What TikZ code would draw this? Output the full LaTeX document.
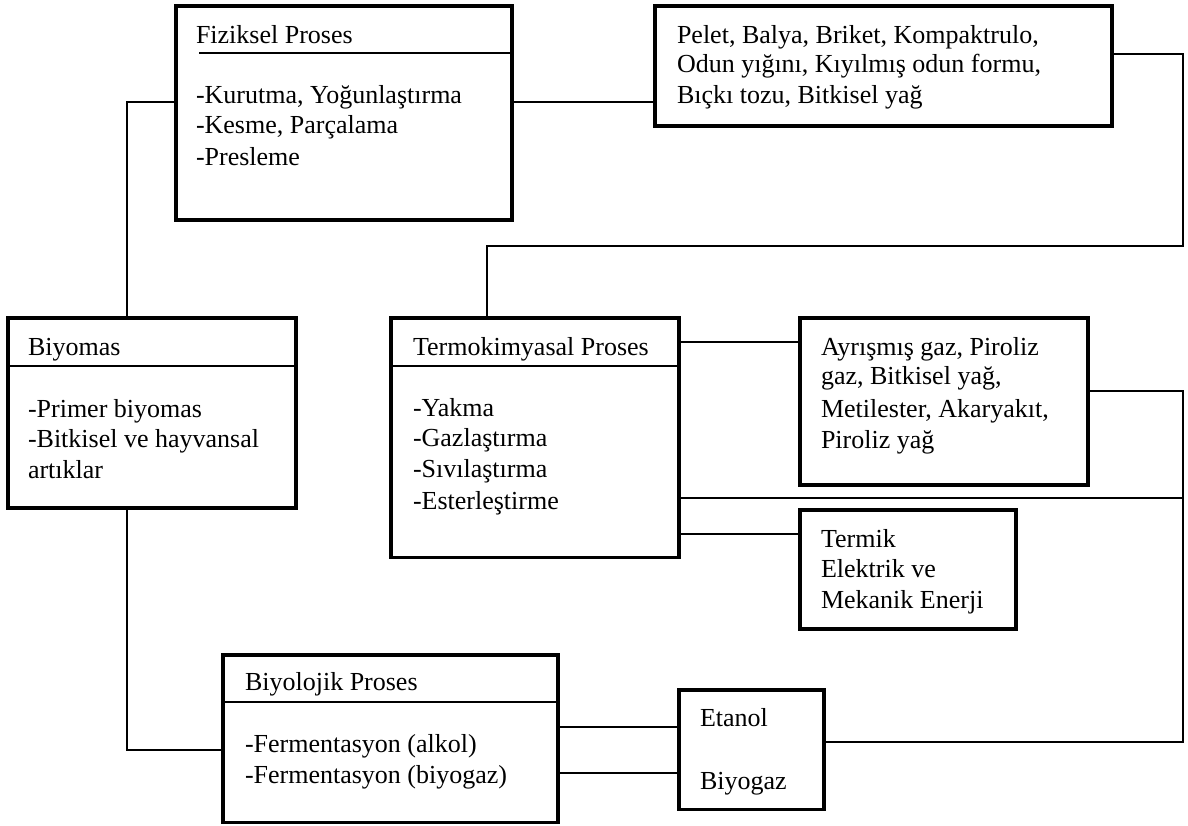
\documentclass[tikz,border=0pt]{standalone}
\usepackage{fontspec}
\setmainfont{Liberation Serif}
\begin{document}
\begin{tikzpicture}[x=0.5pt,y=-0.5pt,
  box/.style={draw,line width=1.65pt,rectangle,inner sep=0,outer sep=0,anchor=north west},
  conn/.style={line width=0.9pt},
  hdr/.style={line width=0.9pt},
  txt/.style={inner sep=0,outer sep=0,anchor=base west,font=\fontsize{13pt}{15pt}\selectfont}]
\useasboundingbox (0,0) rectangle (1188,825);

% boxes
\node[box,minimum width=168pt,minimum height=107pt] (fiz) at (176,6) {};
\node[box,minimum width=228.5pt,minimum height=60pt] (pel) at (655,6) {};
\node[box,minimum width=144pt,minimum height=95pt] (bio) at (8,318) {};
\node[box,minimum width=144pt,minimum height=119.75pt] (ter) at (391,318) {};
\node[box,minimum width=144pt,minimum height=83.5pt] (ayr) at (800,318) {};
\node[box,minimum width=108pt,minimum height=59.5pt] (tmk) at (800,510) {};
\node[box,minimum width=72.5pt,minimum height=59.75pt] (eta) at (679,690) {};
\node[box,minimum width=167.5pt,minimum height=83.75pt] (byl) at (223,655) {};

% header rules
\draw[hdr] (199,53) -- (fiz.east |- 0,53);
\draw[hdr] (bio.west |- 0,366) -- (bio.east |- 0,366);
\draw[hdr] (ter.west |- 0,366) -- (ter.east |- 0,366);
\draw[hdr] (byl.west |- 0,702) -- (byl.east |- 0,702);

% texts
\node[txt] (t1) at (196,43) {Fiziksel Proses};
\node[txt] (t2) at (196,103) {-Kurutma, Yoğunlaştırma};
\node[txt] (t3) at (196,133) {-Kesme, Parçalama};
\node[txt] (t4) at (196,165) {-Presleme};

\node[txt] (p1) at (677,43) {Pelet, Balya, Briket, Kompaktrulo,};
\node[txt] (p2) at (677,72) {Odun yığını, Kıyılmış odun formu,};
\node[txt] (p3) at (677,103) {Bıçkı tozu, Bitkisel yağ};

\node[txt] (b1) at (28,355) {Biyomas};
\node[txt] (b2) at (28,417) {-Primer biyomas};
\node[txt] (b3) at (28,447) {-Bitkisel ve hayvansal};
\node[txt] (b4) at (28,478) {artıklar};

\node[txt] (k1) at (413,355) {Termokimyasal Proses};
\node[txt] (k2) at (413,416) {-Yakma};
\node[txt] (k3) at (413,446) {-Gazlaştırma};
\node[txt] (k4) at (413,477) {-Sıvılaştırma};
\node[txt] (k5) at (413,509) {-Esterleştirme};

\node[txt] (a1) at (821,355) {Ayrışmış gaz, Piroliz};
\node[txt] (a2) at (821,384) {gaz, Bitkisel yağ,};
\node[txt] (a3) at (821,417) {Metilester, Akaryakıt,};
\node[txt] (a4) at (821,448) {Piroliz yağ};

\node[txt] (m1) at (821,547) {Termik};
\node[txt] (m2) at (821,577) {Elektrik ve};
\node[txt] (m3) at (821,608) {Mekanik Enerji};

\node[txt] (e1) at (700,726) {Etanol};
\node[txt] (e2) at (700,789) {Biyogaz};

\node[txt] (y1) at (245,690) {Biyolojik Proses};
\node[txt] (y2) at (245,752) {-Fermentasyon (alkol)};
\node[txt] (y3) at (245,783) {-Fermentasyon (biyogaz)};

% connectors
\draw[conn] (fiz.west |- 0,102) -| (bio.north -| 127,0);
\draw[conn] (fiz.east |- 0,102) -- (pel.west |- 0,102);
\draw[conn] (pel.east |- 0,54) -| (1183,246) -| (ter.north -| 487,0);
\draw[conn] (ter.east |- 0,342) -- (ayr.west |- 0,342);
\draw[conn] (ayr.east |- 0,391) -| (1183,742) -- (eta.east |- 0,742);
\draw[conn] (ter.east |- 0,498) -- (1183,498);
\draw[conn] (ter.east |- 0,534) -- (tmk.west |- 0,534);
\draw[conn] (bio.south -| 127,0) |- (byl.west |- 0,750);
\draw[conn] (byl.east |- 0,727) -- (eta.west |- 0,727);
\draw[conn] (byl.east |- 0,773) -- (eta.west |- 0,773);
\end{tikzpicture}
\end{document}
